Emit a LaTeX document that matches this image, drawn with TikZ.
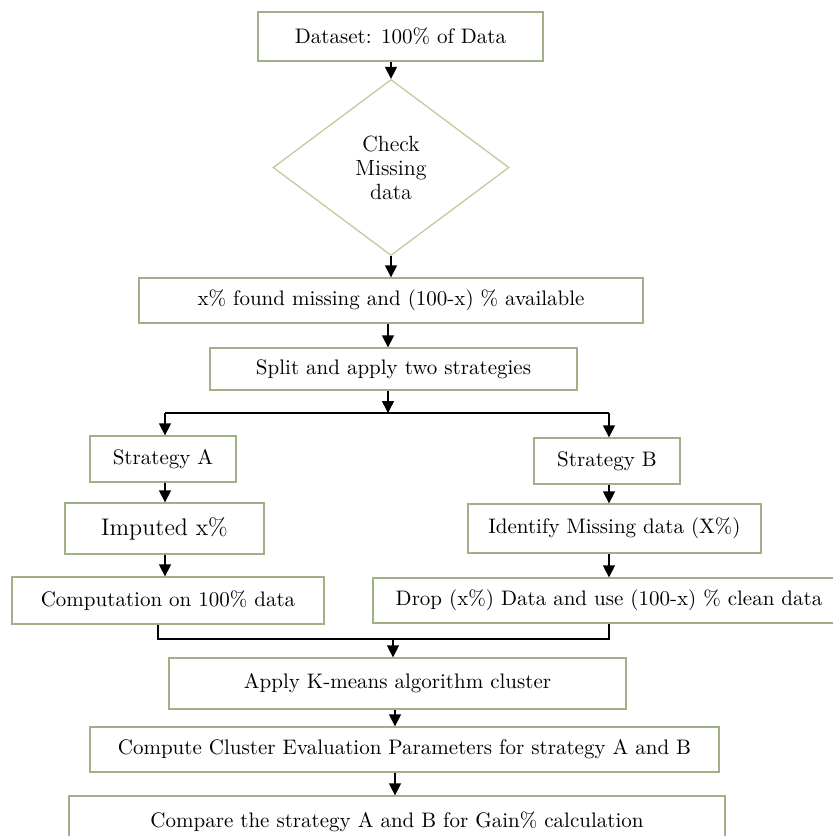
\documentclass[tikz,border=0pt]{standalone}
\usetikzlibrary{shapes.geometric,arrows.meta}
\definecolor{boxgreen}{RGB}{160,176,135}
\definecolor{diagreen}{RGB}{188,206,152}
\begin{document}
\begin{tikzpicture}[x=0.5pt,y=-0.5pt,
  box/.style={draw=boxgreen,line width=0.65pt,inner sep=0pt,align=center,font=\fontsize{10.5}{12.5}\selectfont},
  decision/.style={draw=diagreen,line width=0.65pt,shape=diamond,inner sep=0pt,align=center,font=\fontsize{11}{12}\selectfont},
  arr/.style={line width=0.75pt,-{Triangle[length=6pt,width=6pt]}},
  ln/.style={line width=0.75pt}]
\useasboundingbox (0,0) rectangle (832,836);
\node[box,minimum width=142.5pt,minimum height=24.5pt] (b1) at (400.5,36.5) {Dataset: 100\% of Data};
\node[decision,minimum width=118pt,minimum height=88pt] (dia) at (391,167.5) {Check\\Missing\\data};
\node[box,minimum width=252pt,minimum height=22.5pt] (b3) at (391,300.5) {x\% found missing and (100-x) \% available};
\node[box,minimum width=183.5pt,minimum height=21pt] (b4) at (393.5,369) {Split and apply two strategies};
\node[box,minimum width=73pt,minimum height=23pt] (sA) at (163,459) {Strategy A};
\node[box,minimum width=73pt,minimum height=23pt] (sB) at (607,461) {Strategy B};
\node[box,minimum width=99.5pt,minimum height=25.5pt,font=\fontsize{12}{14}\selectfont] (imp) at (164.5,528.5) {Imputed x\%};
\node[box,minimum width=146.5pt,minimum height=24.5pt] (idf) at (614.5,528.5) {Identify Missing data (X\%)};
\node[box,minimum width=156pt,minimum height=23.5pt] (comp) at (168,600.5) {Computation on 100\% data};
\node[box,minimum width=236pt,minimum height=22.5pt] (drop) at (609,600.5) {Drop (x\%) Data and use (100-x) \% clean data};
\node[box,minimum width=228.5pt,minimum height=25.5pt] (apply) at (397.5,683.5) {Apply K-means algorithm cluster};
\node[box,minimum width=314.5pt,minimum height=22.5pt] (compute) at (404.5,749.5) {Compute Cluster Evaluation Parameters for strategy A and B};
\node[box,minimum width=328pt,minimum height=26pt] (compare) at (397,822) {Compare the strategy A and B for Gain\% calculation};
% helper coordinates
\coordinate (sp) at (388,413);
\coordinate (jA) at (165,413);
\coordinate (jB) at (609,413);
\coordinate (mA) at (158,639);
\coordinate (mB) at (609,639);
\coordinate (mC) at (393,639);
\coordinate (lo) at (395,0);
% connectors
\draw[arr] (b1.south -| dia.north) -- (dia.north);
\draw[arr] (dia.south) -- (dia.south |- b3.north);
\draw[arr] (b3.south -| sp) -- (b4.north -| sp);
\draw[arr] (b4.south -| sp) -- (sp);
\draw[ln] (jA) -- (jB);
\draw[arr] (jA) -- (jA |- sA.north);
\draw[arr] (jB) -- (jB |- sB.north);
\draw[arr] (sA.south -| jA) -- (imp.north -| jA);
\draw[arr] (imp.south -| jA) -- (comp.north -| jA);
\draw[arr] (sB.south -| jB) -- (idf.north -| jB);
\draw[arr] (idf.south -| jB) -- (drop.north -| jB);
\draw[ln] (comp.south -| mA) -- (mA) -- (mB) -- (drop.south -| mB);
\draw[arr] (mC) -- (apply.north -| mC);
\draw[arr] (apply.south -| lo) -- (compute.north -| lo);
\draw[arr] (compute.south -| lo) -- (compare.north -| lo);
\end{tikzpicture}
\end{document}
